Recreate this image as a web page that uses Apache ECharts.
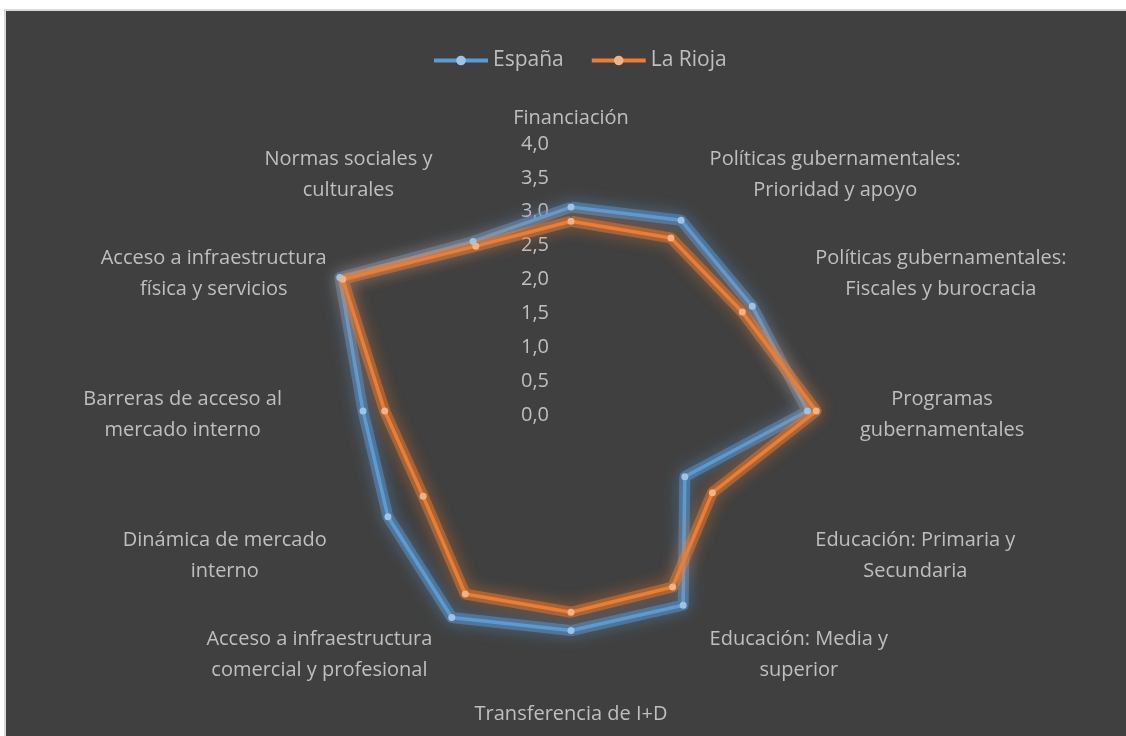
<!DOCTYPE html>
<html>
<head>
<meta charset="utf-8">
<script src="https://cdn.jsdelivr.net/npm/echarts@6/dist/echarts.min.js"></script>
<style>
  html, body { margin: 0; padding: 0; background: #ffffff; }
  #frame {
    position: absolute; left: 4px; top: 9px; width: 1122px; height: 727px;
    box-sizing: border-box; border-left: 2px solid #D9D9D9; border-top: 2px solid #D9D9D9;
    background: #404040;
  }
  #chart { width: 1120px; height: 725px; }
</style>
</head>
<body>
<div id="frame"><div id="chart"></div></div>
<script>
// Indicators of the entrepreneurial environment (0 - 4 scale), listed clockwise from the top
const categories = [
  'Financiación',
  'Políticas gubernamentales:\nPrioridad y apoyo',
  'Políticas gubernamentales:\nFiscales y burocracia',
  'Programas\ngubernamentales',
  'Educación: Primaria y\nSecundaria',
  'Educación: Media y\nsuperior',
  'Transferencia de I+D',
  'Acceso a infraestructura\ncomercial y profesional',
  'Dinámica de mercado\ninterno',
  'Barreras de acceso al\nmercado interno',
  'Acceso a infraestructura\nfísica y servicios',
  'Normas sociales y\nculturales'
];
const seriesNames = ['España', 'La Rioja'];
const espana  = [3.01, 3.25, 3.09, 3.49, 1.94, 3.31, 3.24, 3.52, 3.12, 3.07, 3.94, 2.89];
const laRioja = [2.80, 2.95, 2.92, 3.62, 2.41, 3.00, 2.97, 3.12, 2.52, 2.75, 3.89, 2.81];
const scaleMax = 4;
const scaleSplits = 8;

const FONT = '"Open Sans", sans-serif';
const TEXT = '#BFBFBF';
const SIZE = 20;
const fmtComma = v => Number(v).toFixed(1).replace('.', ',');

// ECharts lays radar indicators out counter-clockwise; reorder so the list reads clockwise
const n = categories.length;
const order = categories.map((_, k) => (n - k) % n);
const cw = arr => order.map(i => arr[i]);

const indicators = cw(categories).map((name, k) => {
  const ang = 2 * Math.PI * k / n;
  const s = Math.abs(Math.sin(ang));
  const ind = { name: name, min: 0, max: scaleMax };
  if (s > 1e-6) {
    ind.nameTextStyle = { verticalAlign: 'middle' };
    ind.nameGap = 6 + 12 * Math.pow(s, 6);
  } else {
    ind.nameGap = Math.cos(ang) > 0 ? 3 : 9;
  }
  if (k === 0) ind.axisLabel = { show: true };
  return ind;
});

const palette = {
  'España':   { line: '#5B9BD5', mark: '#9DC3E6', glow: 'rgba(91,155,213,' },
  'La Rioja': { line: '#ED7D31', mark: '#F4B183', glow: 'rgba(237,125,49,' }
};

// Each series: a soft blurred halo underneath, then the crisp line with markers
const radarData = [];
[espana, laRioja].forEach((vals, s) => {
  const name = seriesNames[s];
  const c = palette[name];
  radarData.push({
    name: name, value: cw(vals), symbol: 'none',
    lineStyle: { color: c.glow + '0.48)', width: 11, shadowBlur: 16, shadowColor: c.glow + '1)', join: 'round' }
  });
  radarData.push({
    name: name, value: cw(vals), symbol: 'circle', symbolSize: 7,
    lineStyle: { color: c.line, width: 3.5 },
    itemStyle: { color: c.mark }
  });
});

// Legend entries drawn as line + marker keys
const legendKeys = seriesNames.map(name => ({
  type: 'line', name: name, data: [], symbol: 'circle',
  lineStyle: { color: palette[name].line, width: 4 },
  itemStyle: { color: palette[name].mark }
}));

const chart = echarts.init(document.getElementById('chart'), null, { renderer: 'canvas' });
chart.setOption({
  backgroundColor: '#404040',
  textStyle: { fontFamily: FONT },
  grid: { show: false, left: 0, top: 0, width: 1, height: 1 },
  xAxis: { show: false, type: 'value' },
  yAxis: { show: false, type: 'value' },
  legend: {
    top: 34,
    left: 421,
    itemWidth: 54,
    itemHeight: 12,
    itemGap: 26,
    lineStyle: { width: 4 },
    textStyle: { color: TEXT, fontSize: 21, fontFamily: FONT },
    data: seriesNames
  },
  radar: {
    center: [565, 400],
    radius: 271,
    startAngle: 90,
    shape: 'polygon',
    splitNumber: scaleSplits,
    nameGap: 6,
    axisName: {
      color: TEXT,
      fontSize: SIZE,
      fontFamily: FONT,
      lineHeight: 31,
      padding: [8, 0, 0, 0],
      formatter: name => name.split('\n').map(l => '{c|' + l + '}').join('\n'),
      rich: { c: { align: 'center', color: TEXT, fontSize: SIZE, fontFamily: FONT, lineHeight: 31 } }
    },
    axisLine: { show: false },
    axisTick: { show: false },
    splitLine: { show: false },
    splitArea: { show: false },
    axisLabel: {
      show: false,
      color: TEXT,
      fontSize: SIZE,
      fontFamily: FONT,
      margin: 22,
      verticalAlign: 'top',
      lineHeight: 8,
      formatter: fmtComma
    },
    indicator: indicators
  },
  series: [{
    type: 'radar',
    data: radarData
  }].concat(legendKeys)
});
</script>
</body>
</html>
